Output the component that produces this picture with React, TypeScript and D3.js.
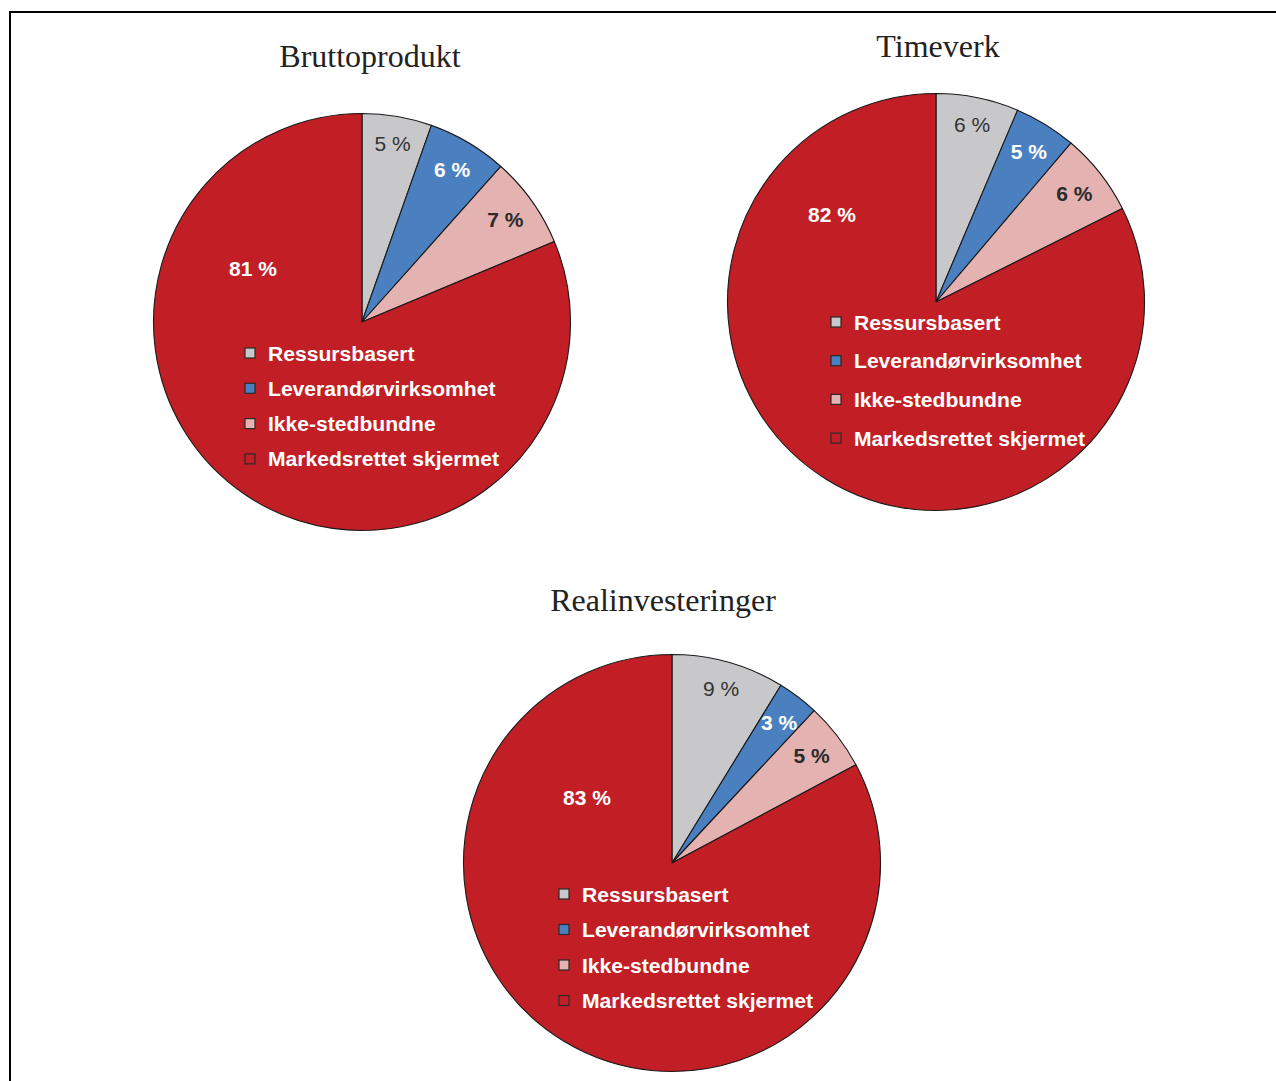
import React from "react";
import * as d3 from "d3";

const categories = ["Ressursbasert", "Leverandørvirksomhet", "Ikke-stedbundne", "Markedsrettet skjermet"];
const colors = ["#c8c8ca", "#4a80bf", "#e3b2b1", "#c11f25"];
const labelColors = ["#333333", "#ffffff", "#2a2a2a", "#ffffff"];
const labelWeights = ["normal", "bold", "bold", "bold"];

const chartTitles = ["Bruttoprodukt", "Timeverk", "Realinvesteringer"];
const bruttoValues = [5.4, 6.2, 7.1, 81.3];
const timeverkValues = [6.4, 4.8, 6.4, 82.4];
const realinvValues = [8.75, 3.2, 5.25, 82.8];
const bruttoLabels = ["5 %", "6 %", "7 %", "81 %"];
const timeverkLabels = ["6 %", "5 %", "6 %", "82 %"];
const realinvLabels = ["9 %", "3 %", "5 %", "83 %"];

// layout
const charts = [
  { title: chartTitles[0], values: bruttoValues, labels: bruttoLabels, cx: 362, cy: 322, titleX: 370, titleY: 67, bigLabel: [-109, -54], legendDx: -112, legendDy: 31, legendStep: 35.3 },
  { title: chartTitles[1], values: timeverkValues, labels: timeverkLabels, cx: 936, cy: 302, titleX: 938, titleY: 57, bigLabel: [-104, -88], legendDx: -100, legendDy: 20, legendStep: 38.7 },
  { title: chartTitles[2], values: realinvValues, labels: realinvLabels, cx: 672, cy: 863, titleX: 663, titleY: 611, bigLabel: [-85, -66], legendDx: -108, legendDy: 31, legendStep: 35.5 },
];

const R = 208.5;
const labelRadii = [181, 177, 176];

function Pie({ c }: { c: any }) {
  const pie = d3.pie<number>().sort(null).value((d) => d)(c.values);
  const arc = d3.arc<d3.PieArcDatum<number>>().innerRadius(0).outerRadius(R);
  return (
    <g>
      <text x={c.titleX} y={c.titleY} textAnchor="middle" fontFamily="'Liberation Serif', 'Times New Roman', serif" fontSize={32} fill="#222">
        {c.title}
      </text>
      <g transform={`translate(${c.cx},${c.cy})`}>
        {pie.map((p, i) => (
          <path key={i} d={arc(p) || ""} fill={colors[i]} stroke="#1a1a1a" strokeWidth={1.1} strokeLinejoin="round" />
        ))}
        {pie.map((p, i) => {
          let x: number, y: number;
          if (i === 3) {
            [x, y] = c.bigLabel;
          } else {
            const la = d3.arc<d3.PieArcDatum<number>>().innerRadius(labelRadii[i]).outerRadius(labelRadii[i]);
            [x, y] = la.centroid(p);
          }
          return (
            <text key={"l" + i} x={x} y={y} dy="0.36em" textAnchor="middle" fontFamily="'Liberation Sans', Arial, sans-serif" fontSize={21} fontWeight={labelWeights[i]} fill={labelColors[i]}>
              {c.labels[i]}
            </text>
          );
        })}
        {categories.map((cat, i) => {
          const y = c.legendDy + i * c.legendStep;
          return (
            <g key={"g" + i}>
              <rect x={c.legendDx - 5} y={y - 5} width={10} height={10} fill={colors[i]} stroke="#2a2a2a" strokeWidth={1.2} />
              <text x={c.legendDx + 18} y={y} dy="0.36em" fontFamily="'Liberation Sans', Arial, sans-serif" fontSize={21.1} fontWeight="bold" fill="#ffffff">
                {cat}
              </text>
            </g>
          );
        })}
      </g>
    </g>
  );
}

export default function App() {
  return (
    <svg width={1276} height={1081} style={{ position: "absolute", left: 0, top: 0, background: "#fff" }}>
      <rect x={0} y={0} width={1276} height={1081} fill="#fff" />
      <line x1={10} y1={12} x2={1276} y2={12} stroke="#000" strokeWidth={2} />
      <line x1={10} y1={11} x2={10} y2={1081} stroke="#000" strokeWidth={2} />
      {charts.map((c, i) => (
        <Pie key={i} c={c} />
      ))}
    </svg>
  );
}
